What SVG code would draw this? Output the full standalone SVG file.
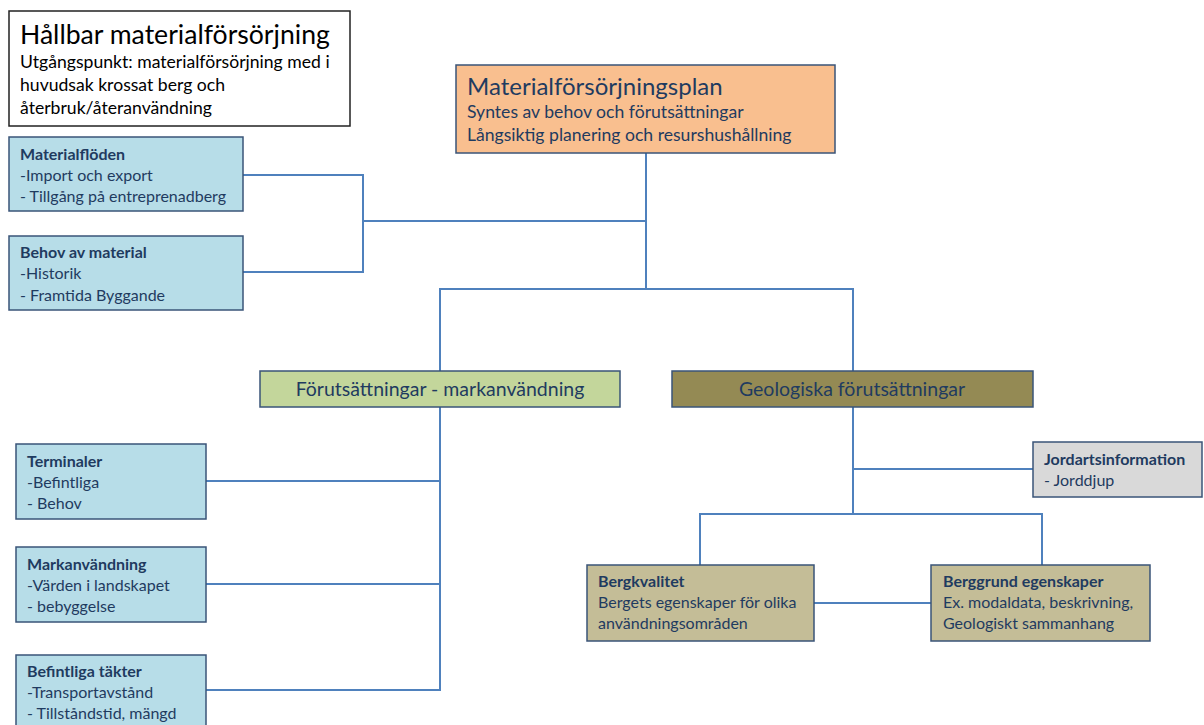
<svg xmlns="http://www.w3.org/2000/svg" width="1204" height="725" viewBox="0 0 1204 725">
<style>
text{font-family:Lato,"Open Sans","Liberation Sans",sans-serif;fill:#1f3b60;font-size:16px}
.b{font-weight:bold}
.m{font-size:17.6px}
.box{stroke:#3a5478;stroke-width:1.5}
.blue{fill:#b7dde8}
.conn{fill:none;stroke:#4f81bd;stroke-width:2}
</style>
<rect width="1204" height="725" fill="#fff"/>
<g id="connectors">
<path class="conn" d="M243 175H363V272H243M363 221H646"/>
<path class="conn" d="M646 153V289M440 371V289H853V371"/>
<path class="conn" d="M440 407V690H206M206 481H440M206 584H440"/>
<path class="conn" d="M853 407V514M853 469H1033M700 565V514H1042V565M814 603H931"/>
</g>
<g id="title">
<rect x="9" y="11" width="341" height="115" fill="#fff" stroke="#222" stroke-width="1.5"/>
<text x="20" y="44" style="font-size:26.6px;fill:#000">Hållbar materialförsörjning</text>
<text class="m" x="20" y="68" style="fill:#000">Utgångspunkt: materialförsörjning med i</text>
<text class="m" x="20" y="91" style="fill:#000">huvudsak krossat berg och</text>
<text class="m" x="20" y="114" style="fill:#000">återbruk/återanvändning</text>
</g>
<g id="plan">
<rect class="box" x="456" y="65" width="379" height="88" fill="#f9bf8f"/>
<text x="467" y="95" style="font-size:24px">Materialförsörjningsplan</text>
<text class="m" x="467" y="118">Syntes av behov och förutsättningar</text>
<text class="m" x="467" y="141">Långsiktig planering och resurshushållning</text>
</g>
<g id="materialfloden">
<rect class="box blue" x="9" y="137" width="234" height="74"/>
<text class="b" x="20" y="160">Materialflöden</text>
<text x="20" y="181">-Import och export</text>
<text x="20" y="202">- Tillgång på entreprenadberg</text>
</g>
<g id="behov">
<rect class="box blue" x="9" y="236" width="234" height="74"/>
<text class="b" x="20" y="258">Behov av material</text>
<text x="20" y="279">-Historik</text>
<text x="20" y="301">- Framtida Byggande</text>
</g>
<g id="markanvandning-main">
<rect class="box" x="260" y="371" width="360" height="36" fill="#c3d69b"/>
<text x="440" y="396" text-anchor="middle" style="font-size:19.5px">Förutsättningar - markanvändning</text>
</g>
<g id="geologiska">
<rect class="box" x="672" y="371" width="361" height="36" fill="#948a54"/>
<text x="852" y="396" text-anchor="middle" style="font-size:19.5px">Geologiska förutsättningar</text>
</g>
<g id="terminaler">
<rect class="box blue" x="16" y="444" width="190" height="75"/>
<text class="b" x="27" y="467">Terminaler</text>
<text x="27" y="488">-Befintliga</text>
<text x="27" y="509">- Behov</text>
</g>
<g id="markanvandning">
<rect class="box blue" x="16" y="547" width="190" height="75"/>
<text class="b" x="27" y="570">Markanvändning</text>
<text x="27" y="591">-Värden i landskapet</text>
<text x="27" y="612">- bebyggelse</text>
</g>
<g id="takter">
<rect class="box blue" x="16" y="655" width="190" height="80"/>
<text class="b" x="27" y="677">Befintliga täkter</text>
<text x="27" y="698">-Transportavstånd</text>
<text x="27" y="719">- Tillståndstid, mängd</text>
</g>
<g id="jordarts">
<rect class="box" x="1033" y="442" width="169" height="55" fill="#d9d9d9"/>
<text class="b" x="1044" y="465">Jordartsinformation</text>
<text x="1044" y="486">- Jorddjup</text>
</g>
<g id="bergkvalitet">
<rect class="box" x="587" y="565" width="227" height="76" fill="#c4bd97"/>
<text class="b" x="598" y="587">Bergkvalitet</text>
<text x="598" y="608">Bergets egenskaper för olika</text>
<text x="598" y="629">användningsområden</text>
</g>
<g id="berggrund">
<rect class="box" x="931" y="565" width="219" height="76" fill="#c4bd97"/>
<text class="b" x="943" y="587">Berggrund egenskaper</text>
<text x="943" y="608">Ex. modaldata, beskrivning,</text>
<text x="943" y="629">Geologiskt sammanhang</text>
</g>
</svg>
